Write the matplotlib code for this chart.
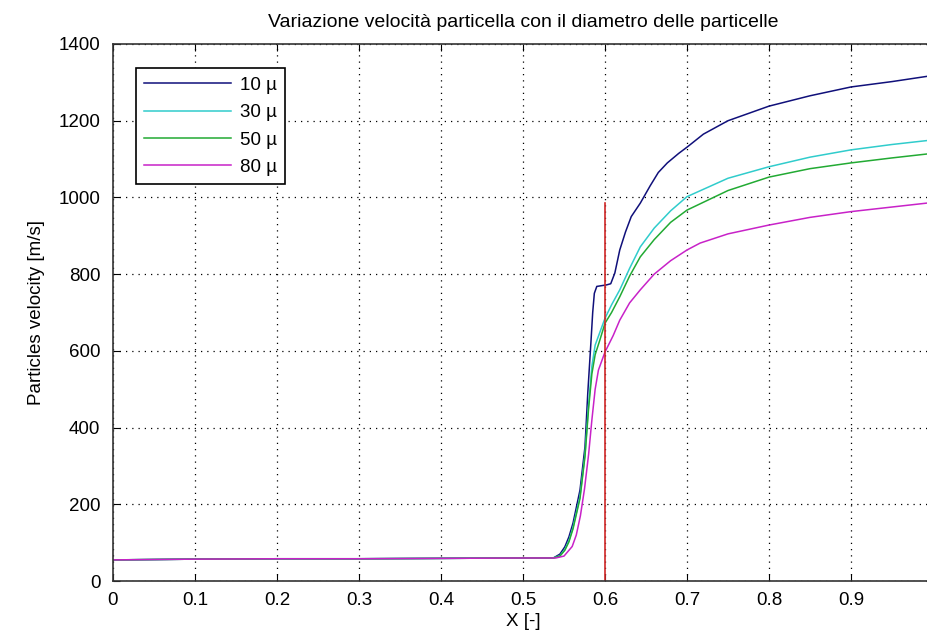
import matplotlib.pyplot as plt
import numpy as np

plt.rcParams['font.family'] = ['Liberation Sans', 'DejaVu Sans']

# velocità delle particelle lungo l'ugello per ciascun diametro
x_10 = [0, 0.1, 0.2, 0.3, 0.4, 0.5, 0.537, 0.545, 0.551, 0.556, 0.561, 0.5695,
        0.5756, 0.579, 0.583, 0.585, 0.587, 0.590, 0.602, 0.607, 0.612, 0.618,
        0.625, 0.632, 0.643, 0.655, 0.665, 0.676, 0.69, 0.7, 0.72, 0.75, 0.8,
        0.85, 0.9, 0.95, 1.0]
v_10 = [55, 57, 58, 58, 59, 60, 60, 70, 89, 115, 151, 237,
        350, 490, 628, 700, 750, 768, 772, 775, 803, 863,
        910, 950, 985, 1030, 1065, 1090, 1115, 1131, 1165, 1200, 1238,
        1265, 1288, 1302, 1318]

x_30 = [0, 0.1, 0.2, 0.3, 0.4, 0.5, 0.537, 0.545, 0.551, 0.556, 0.561, 0.5695,
        0.5756, 0.58, 0.584, 0.588, 0.594, 0.600, 0.608, 0.618, 0.63, 0.643,
        0.66, 0.68, 0.7, 0.75, 0.8, 0.85, 0.9, 0.95, 1.0]
v_30 = [55, 57, 58, 58, 59, 60, 60, 66, 82, 105, 140, 220,
        330, 460, 560, 615, 650, 685, 720, 759, 815, 871,
        920, 965, 1002, 1050, 1080, 1105, 1124, 1138, 1150]

x_50 = [0, 0.1, 0.2, 0.3, 0.4, 0.5, 0.537, 0.545, 0.551, 0.556, 0.561, 0.5695,
        0.5756, 0.58, 0.584, 0.588, 0.594, 0.600, 0.608, 0.618, 0.63, 0.643,
        0.66, 0.68, 0.7, 0.75, 0.8, 0.85, 0.9, 0.95, 1.0]
v_50 = [55, 57, 58, 58, 59, 60, 60, 65, 80, 102, 136, 215,
        325, 450, 540, 590, 630, 672, 700, 741, 795, 845,
        890, 935, 967, 1018, 1053, 1075, 1090, 1103, 1115]

x_80 = [0, 0.1, 0.2, 0.3, 0.4, 0.5, 0.54, 0.55, 0.56, 0.565, 0.57, 0.575,
        0.58, 0.584, 0.588, 0.592, 0.6, 0.61, 0.618, 0.63, 0.643, 0.66,
        0.68, 0.7, 0.716, 0.75, 0.8, 0.85, 0.9, 0.95, 1.0]
v_80 = [55, 57, 58, 58, 59, 60, 60, 65, 90, 120, 170, 240,
        330, 420, 500, 550, 597, 640, 680, 725, 759, 800,
        835, 863, 881, 905, 928, 948, 963, 975, 987]

labels = ['10 µ', '30 µ', '50 µ', '80 µ']
colors = ['#10107a', '#30cccc', '#22aa33', '#c822c8']

x_shock = 0.6
shock_top = 985

fig = plt.figure(figsize=(9.28, 6.39), dpi=100)
ax = fig.add_axes([113/928, 58/639, 820/928, 537/639])

for xs, vs, lab, col in zip([x_10, x_30, x_50, x_80], [v_10, v_30, v_50, v_80], labels, colors):
    ax.plot(xs, vs, color=col, lw=1.1, label=lab)

ax.plot([x_shock, x_shock], [0, shock_top], color='#d02828', lw=1.2)

ax.set_xlim(0, 1)
ax.set_ylim(0, 1400)
ax.set_xticks(np.arange(0, 1.0, 0.1))
ax.set_xticklabels(['0', '0.1', '0.2', '0.3', '0.4', '0.5', '0.6', '0.7', '0.8', '0.9'])
ax.set_yticks(np.arange(0, 1401, 200))
ax.tick_params(direction='in', length=5, top=True, right=True, labelsize=13.5)
ax.tick_params(axis='x', pad=8)
ax.tick_params(axis='y', pad=9)
ax.grid(True, color='black', linestyle=(0, (1, 4)), lw=0.9)
for s in ax.spines.values():
    s.set_linewidth(1.2)
    s.set_color('#333333')

ax.set_title('Variazione velocità particella con il diametro delle particelle', fontsize=14, pad=12)
ax.set_xlabel('X [-]', fontsize=13.5, labelpad=3)
ax.set_ylabel('Particles velocity [m/s]', fontsize=13.5, labelpad=10)

leg = ax.legend(loc='upper left', bbox_to_anchor=(0.028, 0.955), fontsize=13.5,
                frameon=True, fancybox=False, edgecolor='black', framealpha=1,
                handlelength=4.6, handletextpad=0.5, labelspacing=0.55, borderpad=0.45,
                borderaxespad=0)
leg.get_frame().set_linewidth(1.2)

fig.savefig('out.png', dpi=100)
plt.close(fig)
